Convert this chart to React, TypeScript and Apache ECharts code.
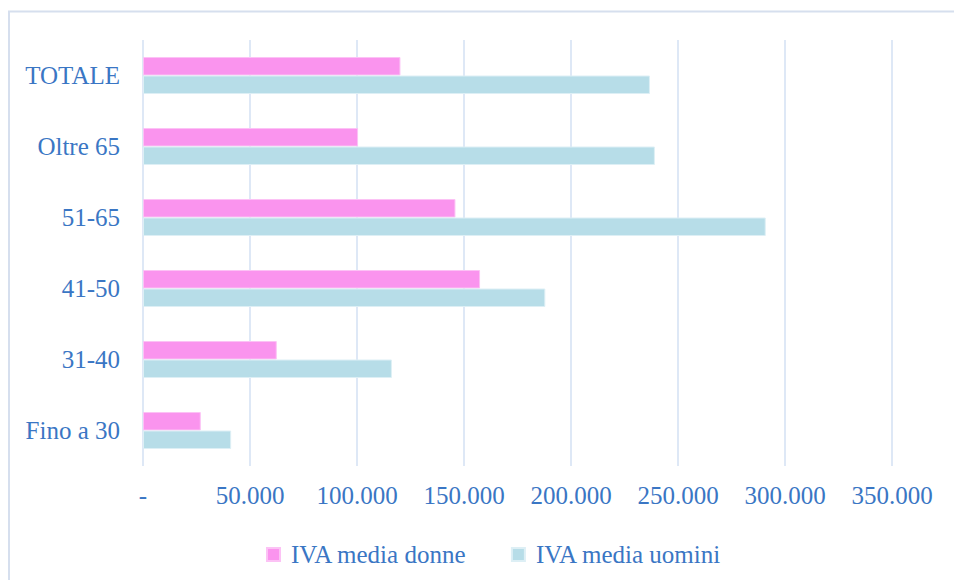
import React, { useEffect, useRef } from "react";
import * as echarts from "echarts";

const categories = ["Fino a 30", "31-40", "41-50", "51-65", "Oltre 65", "TOTALE"];
const donne = [27000, 62500, 157500, 146000, 100500, 120300];
const uomini = [41200, 116300, 188000, 291000, 239200, 236900];
const seriesNames = ["IVA media donne", "IVA media uomini"];
const xTicks = [0, 50000, 100000, 150000, 200000, 250000, 300000, 350000];

const TEXT = "#3A76C4";
const GRID = "#D3E0F3";
const FONT = "'Liberation Serif', 'DejaVu Serif', serif";

function fmt(v: number): string {
  if (v === 0) return "-";
  return String(Math.round(v)).replace(/\B(?=(\d{3})+(?!\d))/g, ".");
}

export default function App() {
  const ref = useRef<HTMLDivElement>(null);
  useEffect(() => {
    if (!ref.current) return;
    const chart = echarts.init(ref.current, undefined, { renderer: "svg" });
    chart.setOption({
      animation: false,
      backgroundColor: "#ffffff",
      grid: { left: 143, right: 62, top: 40, bottom: 114, containLabel: false },
      xAxis: {
        type: "value",
        min: xTicks[0],
        max: xTicks[xTicks.length - 1],
        interval: 50000,
        axisLine: { show: false },
        axisTick: { show: false },
        splitLine: { show: true, lineStyle: { color: GRID, width: 1.5 } },
        axisLabel: {
          formatter: (v: number) => fmt(v),
          color: TEXT,
          fontFamily: FONT,
          fontSize: 25,
          margin: 17,
        },
      },
      yAxis: {
        type: "category",
        data: categories,
        axisLine: { show: false },
        axisTick: { show: false },
        splitLine: { show: false },
        axisLabel: { color: TEXT, fontFamily: FONT, fontSize: 25, margin: 23 },
      },
      legend: {
        data: seriesNames,
        left: 261,
        top: 537,
        icon: "rect",
        itemWidth: 13,
        itemHeight: 13,
        itemGap: 44,
        textStyle: { color: TEXT, fontFamily: FONT, fontSize: 25, padding: [0, 0, 0, 6] },
      },
      series: [
        {
          name: seriesNames[0],
          type: "bar",
          data: donne,
          barWidth: 18.5,
          barGap: "0%",
          itemStyle: { color: "#FA94EE", borderColor: "#FCC2F5", borderWidth: 1 },
        },
        {
          name: seriesNames[1],
          type: "bar",
          data: uomini,
          barWidth: 18.5,
          barGap: "0%",
          itemStyle: { color: "#B7DDE8", borderColor: "#DDEFF5", borderWidth: 1 },
        },
      ],
      graphic: [
        {
          type: "rect",
          shape: { x: 9, y: 11.5, width: 960, height: 600 },
          style: { fill: "none", stroke: "#D6DFEE", lineWidth: 2 },
          silent: true,
        },
      ],
    });
    return () => chart.dispose();
  }, []);
  return (
    <div
      ref={ref}
      style={{ position: "absolute", left: 0, top: 0, width: 954, height: 580 }}
    />
  );
}
